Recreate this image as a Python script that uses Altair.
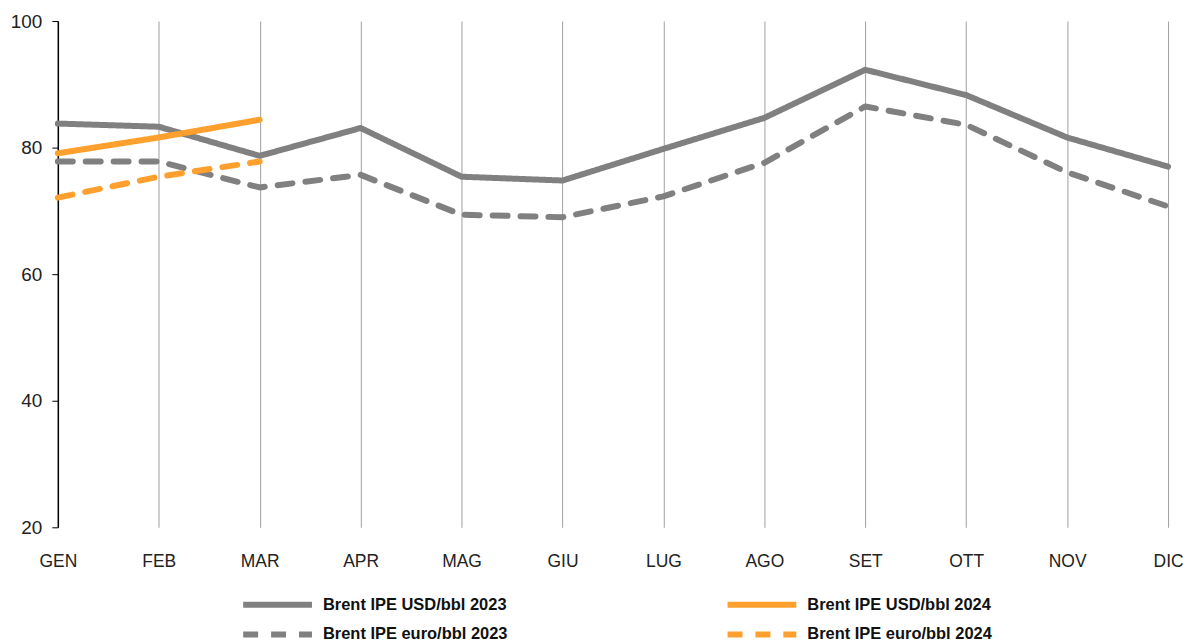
import altair as alt
import pandas as pd

months = ["GEN", "FEB", "MAR", "APR", "MAG", "GIU", "LUG", "AGO", "SET", "OTT", "NOV", "DIC"]
usd_2023 = [83.8, 83.3, 78.7, 83.1, 75.4, 74.8, 79.8, 84.7, 92.3, 88.3, 81.6, 77.0]
eur_2023 = [77.8, 77.8, 73.7, 75.7, 69.4, 69.0, 72.3, 77.6, 86.5, 83.6, 76.1, 70.7]
usd_2024 = [79.1, 81.6, 84.4]
eur_2024 = [72.1, 75.4, 77.8]

series_names = ["Brent IPE USD/bbl 2023", "Brent IPE euro/bbl 2023",
                "Brent IPE USD/bbl 2024", "Brent IPE euro/bbl 2024"]
series_colors = ["#808080", "#808080", "#ffa02e", "#ffa02e"]
series_dash = [[1, 0], [15, 13], [1, 0], [15, 13]]

rows = []
for name, vals in zip(series_names, [usd_2023, eur_2023, usd_2024, eur_2024]):
    for m, v in zip(months, vals):
        rows.append({"mese": m, "valore": v, "serie": name})
df = pd.DataFrame(rows)

legend = alt.Legend(
    title=None, orient="none", legendX=183, legendY=571, columns=2,
    symbolType="M-3,0H3", symbolSize=529, symbolStrokeWidth=6,
    symbolOffset=23, labelOffset=31, columnPadding=208, rowPadding=3,
    labelFont="Liberation Sans", labelFontSize=16.5, labelFontWeight="bold",
    labelColor="#111111", labelLimit=400,
)

chart = alt.Chart(df).mark_line(strokeWidth=6, strokeCap="round", strokeJoin="round").encode(
    x=alt.X("mese:N", sort=months, scale=alt.Scale(type="point", padding=0),
            axis=alt.Axis(title=None, labelAngle=0, domain=False, ticks=False, grid=True,
                          gridColor="#a0a0a0", gridWidth=1, labelFontSize=17.5,
                          labelFont="Liberation Sans", labelColor="#222222", labelPadding=25)),
    y=alt.Y("valore:Q", scale=alt.Scale(domain=[20, 100], nice=False, zero=False),
            axis=alt.Axis(title=None, values=[20, 40, 60, 80, 100], grid=False,
                          domainColor="#000000", domainWidth=1.5, tickColor="#000000",
                          tickSize=6, labelFontSize=19, labelFont="Liberation Sans",
                          labelColor="#222222", labelPadding=10)),
    color=alt.Color("serie:N", sort=series_names,
                    scale=alt.Scale(domain=series_names, range=series_colors), legend=legend),
    strokeDash=alt.StrokeDash("serie:N", sort=series_names,
                              scale=alt.Scale(domain=series_names, range=series_dash), legend=legend),
).properties(
    width=1114, height=508,
    autosize=alt.AutoSizeParams(type="none"),
    padding={"left": 50, "top": 12, "right": 16, "bottom": 115},
).configure(background="white").configure_view(stroke=None)

chart.save("out.html", embed_options={"renderer": "svg", "actions": False})
